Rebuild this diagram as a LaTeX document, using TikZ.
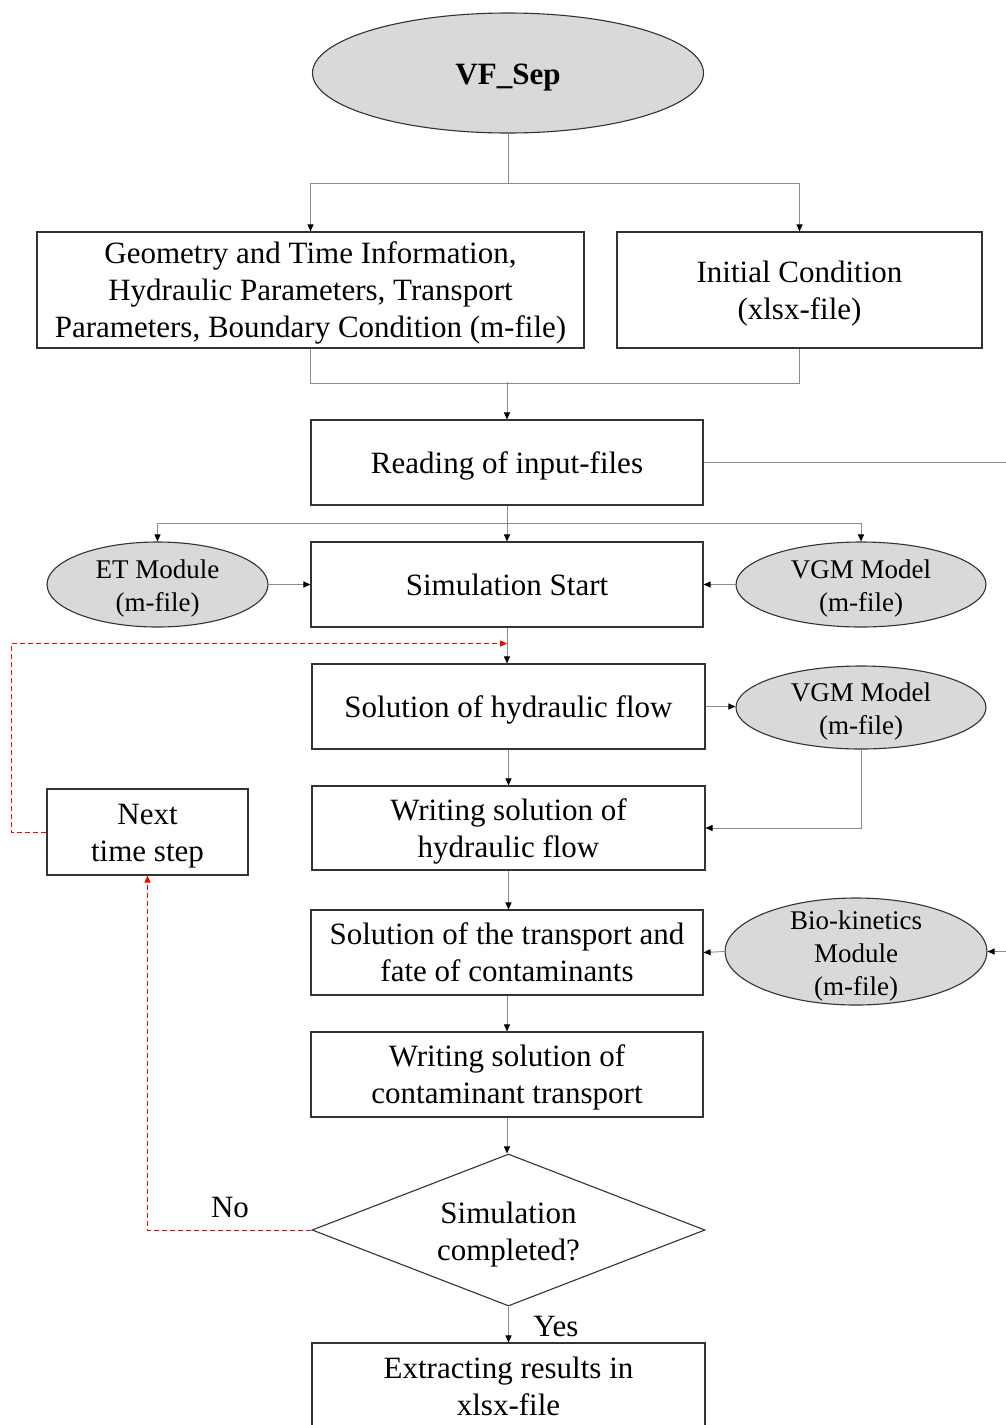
\documentclass[tikz,border=0pt]{standalone}
\usepackage{fontspec}
\setmainfont{Liberation Serif}
\usetikzlibrary{arrows.meta,shapes.geometric,calc}
\newcommand{\bs}{\rule[-7pt]{0pt}{35pt}}
\begin{document}
\begin{tikzpicture}[x=1pt,y=-1pt,
  boxnode/.style={draw=black!80, line width=1.1pt, fill=white, inner sep=0pt, align=center,
    font=\fontsize{31}{37}\selectfont},
  ellnode/.style={ellipse, draw=black!80, line width=1.1pt, fill=gray!30, inner sep=0pt},
  elltext/.style={align=center, inner sep=0pt, font=\fontsize{27}{33}\selectfont},
  conn/.style={draw=black!45, line width=0.9pt},
  arr/.style={conn, -{Triangle[length=7pt,width=6pt,color=black]}},
  redarr/.style={draw=red, line width=1pt, dash pattern=on 5pt off 3pt,
    -{Triangle[length=7pt,width=6pt,color=red]}},
  lbl/.style={inner sep=0pt, font=\fontsize{31}{37}\selectfont}
]
\path[use as bounding box, clip] (0,0) rectangle (1006,1425);

% nodes
\node[ellnode, minimum width=391pt, minimum height=120pt] (vf) at (508,73) {};
\node[inner sep=0pt, font=\fontsize{31}{37}\selectfont\bfseries] (vft) at (508,78) {VF\_Sep};

\node[boxnode, minimum width=547pt, minimum height=116pt] (geo) at (310.5,290)
  {\bs Geometry and Time Information,\\Hydraulic Parameters, Transport\\Parameters, Boundary Condition (m-file)\bs};
\node[boxnode, minimum width=365pt, minimum height=116pt] (init) at (799.5,290)
  {\bs Initial Condition\\(xlsx-file)\bs};

\node[boxnode, minimum width=392pt, minimum height=85pt] (read) at (507,462.5) {\bs Reading of input-files};

\node[ellnode, minimum width=221pt, minimum height=85pt] (et) at (157.5,584.5) {};
\node[elltext] (ett) at (157.5,588) {ET Module\\(m-file)};
\node[boxnode, minimum width=392pt, minimum height=85pt] (sim) at (507,584.5) {\bs Simulation Start};
\node[ellnode, minimum width=250pt, minimum height=85pt] (vgmA) at (861,584.5) {};
\node[elltext] (vgmAt) at (861,588) {VGM Model\\(m-file)};

\node[boxnode, minimum width=393pt, minimum height=85pt] (sol) at (508.5,706.5) {\bs Solution of hydraulic flow};
\node[ellnode, minimum width=250pt, minimum height=83pt] (vgmB) at (861,707.5) {};
\node[elltext] (vgmBt) at (861,711) {VGM Model\\(m-file)};

\node[boxnode, minimum width=393pt, minimum height=84pt] (wr1) at (508.5,828) {\bs Writing solution of\\hydraulic flow\bs};
\node[boxnode, minimum width=201pt, minimum height=86pt] (next) at (147.5,832) {\bs Next\\time step\bs};

\node[boxnode, minimum width=392pt, minimum height=85pt] (tr) at (507,952.5) {\bs Solution of the transport and\\fate of contaminants\bs};
\node[ellnode, minimum width=262pt, minimum height=107pt] (bio) at (856,951.5) {};
\node[elltext] (biot) at (856,956) {Bio-kinetics\\Module\\(m-file)};

\node[boxnode, minimum width=392pt, minimum height=85pt] (wr2) at (507,1074.5) {\bs Writing solution of\\contaminant transport\bs};

\node[diamond, aspect=2.59, draw=black!80, line width=1.1pt, fill=white, inner sep=0pt,
  minimum width=393pt, minimum height=152pt] (dia) at (508.5,1230) {};
\node[lbl, align=center] (diat) at (508.5,1235) {Simulation\\completed?};

\node[boxnode, minimum width=393pt, minimum height=87pt] (ext) at (508.5,1386.5) {Extracting results in\\xlsx-file};

% connectors
\draw[arr] (vf.south) -- ++(0,50) -| (geo.north);
\draw[arr] (vf.south) -- ++(0,50) -| (init.north);

\draw[conn] (geo.south) -- ++(0,35) -| (init.south);
\draw[arr] ($(read.north)+(0,-37)$) -- (read.north);

\coordinate (edgeA) at (1006,463);
\draw[conn] (read.east) -- (read.east -| edgeA);

\draw[arr] (read.south) -- (sim.north);
\draw[arr] (read.south) -- ++(0,18) -| (et.north);
\draw[arr] (read.south) -- ++(0,18) -| (vgmA.north);

\draw[arr] (et.east) -- (sim.west);
\draw[arr] (vgmA.west) -- (sim.east);

\draw[arr] (sim.south) -- (sim.south |- sol.north);
\draw[redarr] (next.west) -- ++(-35,0) |- ($(sim.south)+(0,16)$);

\draw[arr] (sol.east) -- (sol.east -| vgmB.west);
\draw[arr] (vgmB.south) |- (wr1.east);
\draw[arr] (sol.south) -- (wr1.north);

\draw[arr] (wr1.south) -- (wr1.south |- tr.north);
\draw[arr] (bio.west) -- (tr.east);
\coordinate (edgeB) at (1006,952);
\draw[arr] (bio.east -| edgeB) -- (bio.east);

\draw[arr] (tr.south) -- (wr2.north);
\draw[arr] (wr2.south) -- (wr2.south |- dia.north);

\draw[redarr] (dia.west) -| (next.south);
\node[lbl] (nolbl) at (230,1207) {No};

\draw[arr] (dia.south) -- (dia.south |- ext.north);
\node[lbl] (yeslbl) at (556,1326) {Yes};
\end{tikzpicture}
\end{document}
